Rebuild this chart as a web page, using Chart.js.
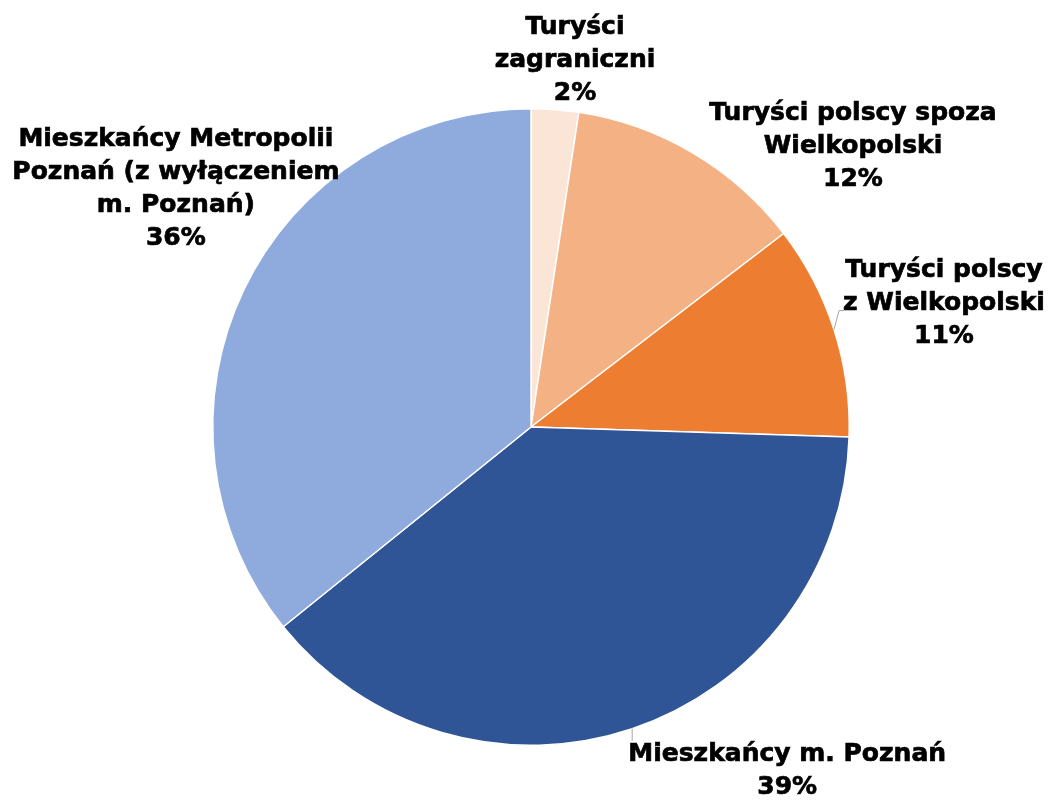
<!DOCTYPE html>
<html>
<head>
<meta charset="utf-8">
<script src="https://cdn.jsdelivr.net/npm/chart.js@4.4.1/dist/chart.umd.min.js"></script>
<style>
    html, body { margin: 0; padding: 0; background: #ffffff; }
    #wrap { width: 1050px; height: 800px; position: relative; }
</style>
</head>
<body>
<div id="wrap"><canvas id="chart"></canvas></div>
<script>
// Categories (already wrapped the way the reference shows them)
const categories = [
    ['Turyści', 'zagraniczni'],
    ['Turyści polscy spoza', 'Wielkopolski'],
    ['Turyści polscy', 'z Wielkopolski'],
    ['Mieszkańcy m. Poznań'],
    ['Mieszkańcy Metropolii', 'Poznań (z wyłączeniem', 'm. Poznań)']
];
// Shares in percent
const shares = [2.4, 12.2, 10.9, 38.7, 35.8];
const sliceColors = ['#FBE5D6', '#F4B183', '#ED7D31', '#2F5597', '#8FAADC'];

// Label placement relative to the slice's outer mid-point
const labelOffsets = [[20, -49], [160, -7], [110, -26], [155, 42], [-68, -101]];
// Leader lines (points relative to label centre), null = none
const leaders = [null, null, [[-105, 7], [-100, 7]], [[-155, -30]], null];

const outsideLabels = {
    id: 'outsideLabels',
    afterDatasetsDraw(chart) {
        const ctx = chart.ctx;
        const meta = chart.getDatasetMeta(0);
        const lineH = 33;
        ctx.save();
        ctx.font = 'bold 25px "DejaVu Sans", Verdana, sans-serif';
        ctx.textAlign = 'center';
        ctx.textBaseline = 'middle';
        meta.data.forEach((arc, i) => {
            const p = arc.getProps(['x', 'y', 'startAngle', 'endAngle', 'outerRadius'], true);
            const mid = (p.startAngle + p.endAngle) / 2;
            const ax = p.x + Math.cos(mid) * p.outerRadius;
            const ay = p.y + Math.sin(mid) * p.outerRadius;
            const cx = ax + labelOffsets[i][0];
            const cy = ay + labelOffsets[i][1];
            const lines = categories[i].concat([Math.round(shares[i]) + '%']);

            if (leaders[i]) {
                ctx.strokeStyle = '#A6A6A6';
                ctx.lineWidth = 1;
                ctx.beginPath();
                ctx.moveTo(ax, ay);
                leaders[i].forEach(pt => {
                    ctx.lineTo(cx + pt[0], cy + pt[1]);
                });
                ctx.stroke();
            }

            // a thin stroke makes the bold face as heavy as the original
            ctx.fillStyle = '#000000';
            ctx.strokeStyle = '#000000';
            ctx.lineWidth = 0.7;
            const top = cy - (lines.length - 1) * lineH / 2;
            lines.forEach((t, k) => {
                ctx.fillText(t, cx, top + k * lineH);
                ctx.strokeText(t, cx, top + k * lineH);
            });
        });
        ctx.restore();
    }
};

new Chart(document.getElementById('chart'), {
    type: 'pie',
    data: {
        labels: categories,
        datasets: [{
            data: shares,
            backgroundColor: sliceColors,
            borderColor: '#ffffff',
            borderWidth: 1.5
        }]
    },
    options: {
        responsive: true,
        maintainAspectRatio: false,
        animation: false,
        layout: { padding: { top: 108, bottom: 54, left: 12, right: 0 } },
        plugins: {
            legend: { display: false },
            tooltip: { enabled: false }
        }
    },
    plugins: [outsideLabels]
});
</script>
</body>
</html>
